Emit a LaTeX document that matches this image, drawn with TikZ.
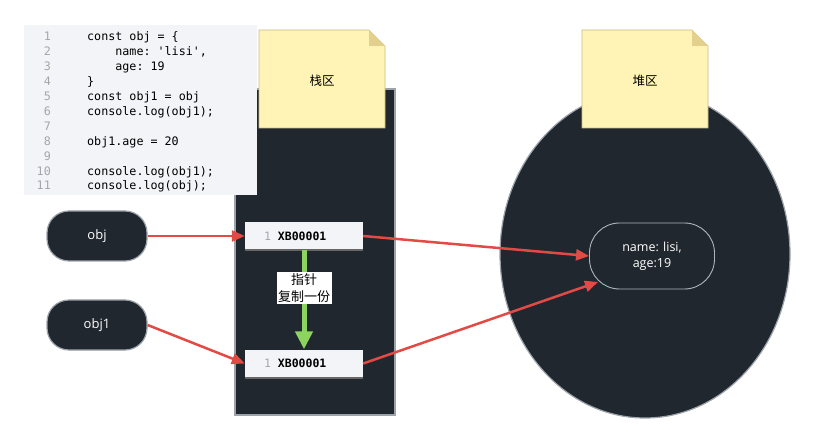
\documentclass[tikz,border=0pt]{standalone}
\usepackage{fontspec}
\setmainfont{Open Sans}
\setmonofont{DejaVu Sans Mono}
\newfontfamily\cjk{Noto Sans CJK SC}
\usetikzlibrary{arrows.meta,shapes.geometric}
\definecolor{darkbg}{HTML}{21272F}
\definecolor{edgegray}{HTML}{9CA3AB}
\definecolor{codebg}{HTML}{F3F4F8}
\definecolor{numgray}{HTML}{A3A7AD}
\definecolor{notefill}{HTML}{FFF4B5}
\definecolor{notefold}{HTML}{E2D08C}
\definecolor{noteedge}{HTML}{C9BC80}
\definecolor{arrowred}{HTML}{E24B45}
\definecolor{copygreen}{HTML}{8DD35F}
\def\stickynote(#1,#2)#3#4{
	\filldraw[fill=notefill, draw=noteedge, line width=0.6pt] (#1,#2) -- ++(110,0) -- ++(16,16) -- ++(0,82) -- ++(-126,0) -- cycle;
	\fill[notefold] (#1+110,#2) -- ++(16,16) -- ++(-16,0) -- cycle;
	\node[font=\cjk\fontsize{12.5}{15}\selectfont] (#3) at (#1+63,#2+51) {#4};
}
\tikzset{
	darkbox/.style={fill=darkbg, draw=edgegray, line width=1.2pt},
	objbox/.style={darkbox, rounded corners=22pt, minimum width=100pt, minimum height=50pt, text=white, font=\fontsize{13}{16}\selectfont},
	addrbox/.style={fill=codebg, text width=80pt, inner xsep=19pt, minimum height=28pt, align=left, font=\ttfamily\fontsize{11.5}{14}\selectfont},
	refarrow/.style={draw=arrowred, line width=2.5pt, -{Triangle[length=13pt,width=11pt]}},
	copyarrow/.style={draw=copygreen, line width=5pt, -{Triangle[length=18pt,width=17pt]}},
	codefont/.style={font=\ttfamily\fontsize{11.7}{14}\selectfont, inner sep=0pt}
}

\begin{document}
\begin{tikzpicture}[x=1pt,y=-1pt]
	%%%%% START %%%%%
	\useasboundingbox (0,0) rectangle (816,443);
	
	% stack
	\node[darkbox, minimum width=160pt, minimum height=326pt] (stack) at (315,252) {};
	\stickynote(259,30){stacknote}{栈区}
	
	% code
	\node[fill=codebg, minimum width=233pt, minimum height=170pt] (code) at (140.5,110) {};
	\foreach \n/\t in {1/{const obj = \{}, 2/{\phantom{0000}name: 'lisi',}, 3/{\phantom{0000}age: 19}, 4/{\}}, 5/{const obj1 = obj}, 6/{console.log(obj1);}, 7/{}, 8/{obj1.age = 20}, 9/{}, 10/{console.log(obj1);}, 11/{console.log(obj);}}
	{
		\node[codefont, text=numgray, anchor=base east] (num\n) at (51, 41+14.9*\n-14.9) {\n};
		\node[codefont, anchor=base west] (line\n) at (87, 41+14.9*\n-14.9) {\t};
	}
	
	% heap
	\node[darkbox, ellipse, minimum width=290pt, minimum height=328pt] (heap) at (645,254) {};
	\stickynote(582,30){heapnote}{堆区}
	
	\node[objbox] (obj) at (97,236) {obj};
	\node[objbox] (objone) at (97,325) {obj1};
	
	\node[addrbox] (addrtop) at (304,236) {\textcolor{numgray}{1}\hspace{7pt}\textbf{XB00001}};
	\node[addrbox] (addrbot) at (304,363.5) {\textcolor{numgray}{1}\hspace{7pt}\textbf{XB00001}};
	\draw[draw=black!60, line width=2pt] (addrtop.south west) -- (addrtop.south east);
	\draw[draw=black!60, line width=2pt] (addrbot.south west) -- (addrbot.south east);
	
	\node[darkbox, draw=edgegray!80, line width=0.9pt, rounded corners=30pt, minimum width=125pt, minimum height=66pt, text=white, align=center, font=\fontsize{12.5}{16}\selectfont] (val) at (652,256) {name: lisi,\\age:19};
	\coordinate (valin) at (598,282);
	
	\draw[copyarrow] (addrtop.south) -- (addrbot.north) node[pos=0.38, fill=white, inner sep=1.5pt, align=center, text=black, font=\cjk\fontsize{13}{17}\selectfont] (copylabel) {指针\\复制一份};
	
	\draw[refarrow] (obj.east) -- (addrtop.west);
	\draw[refarrow] (objone.east) -- (addrbot.west);
	\draw[refarrow] (addrtop.east) -- (val.west);
	\draw[refarrow] (addrbot.east) -- (valin);
	%%%%% END %%%%%
\end{tikzpicture}
\end{document}
